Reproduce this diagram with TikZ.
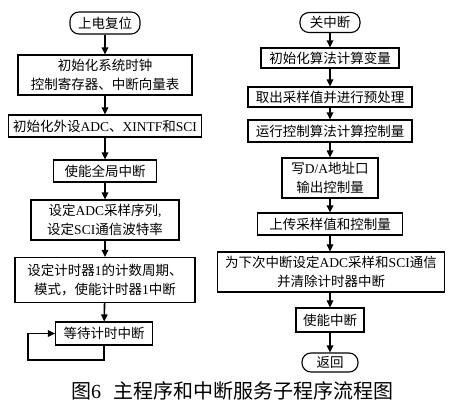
\documentclass[tikz,border=0pt]{standalone}
\usepackage{fontspec}
\setmainfont{Liberation Serif}
\newfontfamily\cjk{Noto Sans CJK SC}
\usetikzlibrary{arrows.meta}
\newcommand\zh[1]{{\cjk #1}}
\begin{document}
\begin{tikzpicture}[x=1pt,y=-1pt,
  box/.style={draw, line width=1.1pt, inner xsep=2pt, inner ysep=1pt, align=center,
    font=\fontsize{13.5}{19}\selectfont},
  pill/.style={box, rounded corners=9pt},
  arr/.style={line width=1.6pt, -{Triangle[length=7pt,width=6.5pt]}}]
\useasboundingbox[fill=white] (0,0) rectangle (450,409);
% left column
\node[pill, minimum width=70pt, minimum height=22pt] (n1) at (105,23) {\zh{上电复位}};
\node[box, minimum width=174pt, minimum height=40pt] (n2) at (105,75) {\zh{初始化系统时钟}\\\zh{控制寄存器、中断向量表}};
\node[box, minimum width=193pt, minimum height=22pt] (n3) at (105,126) {\zh{初始化外设}ADC\zh{、}XINTF\zh{和}SCI};
\node[box, minimum width=103pt, minimum height=22pt] (n4) at (105,171) {\zh{使能全局中断}};
\node[box, minimum width=148pt, minimum height=40pt] (n5) at (105,220) {\zh{设定}ADC\zh{采样序列},\\\zh{设定}SCI\zh{通信波特率}};
\node[box, minimum width=180pt, minimum height=45pt] (n6) at (105,280) {\zh{设定计时器}1\zh{的计数周期、}\\\zh{模式，使能计时器}1\zh{中断}};
\node[box, minimum width=97pt, minimum height=23pt] (n7) at (104,333.5) {\zh{等待计时中断}};
\coordinate (la) at (28,360);
\draw[arr] (n1) -- (n2);
\draw[arr] (n2) -- (n3);
\draw[arr] (n3) -- (n4);
\draw[arr] (n4) -- (n5);
\draw[arr] (n5) -- (n6);
\draw[arr] (n6) -- (n7);
\draw[arr] (n7.south) |- (la) |- (n7.west);
% right column
\node[pill, minimum width=60pt, minimum height=20pt] (r1) at (330,22.5) {\zh{关中断}};
\node[box, minimum width=138pt, minimum height=20pt] (r2) at (330,58) {\zh{初始化算法计算变量}};
\node[box, minimum width=164pt, minimum height=20pt] (r3) at (330,97) {\zh{取出采样值并进行预处理}};
\node[box, minimum width=164pt, minimum height=22pt] (r4) at (330,131) {\zh{运行控制算法计算控制量}};
\node[box, minimum width=96pt, minimum height=40pt] (r5) at (330,178) {\zh{写}D/A\zh{地址口}\\\zh{输出控制量}};
\node[box, minimum width=145pt, minimum height=22pt] (r6) at (330,224) {\zh{上传采样值和控制量}};
\node[box, minimum width=227pt, minimum height=40pt] (r7) at (331,272) {\zh{为下次中断设定}ADC\zh{采样和}SCI\zh{通信}\\\zh{并清除计时器中断}};
\node[box, minimum width=68pt, minimum height=24pt] (r8) at (330,320) {\zh{使能中断}};
\node[pill, minimum width=56pt, minimum height=19pt] (r9) at (330,362.5) {\zh{返回}};
\draw[arr] (r1) -- (r2);
\draw[arr] (r2) -- (r3);
\draw[arr] (r3) -- (r4);
\draw[arr] (r4) -- (r5);
\draw[arr] (r5) -- (r6);
\draw[arr] (r6) -- (r7.north -| r6);
\draw[arr] (r7.south -| r8) -- (r8);
\draw[arr] (r8) -- (r9);
% caption
\node[font=\fontsize{20}{24}\selectfont, inner sep=0pt] (cap) at (232,391) {\zh{图}6\hspace{12pt}\zh{主程序和中断服务子程序流程图}};
\end{tikzpicture}
\end{document}
